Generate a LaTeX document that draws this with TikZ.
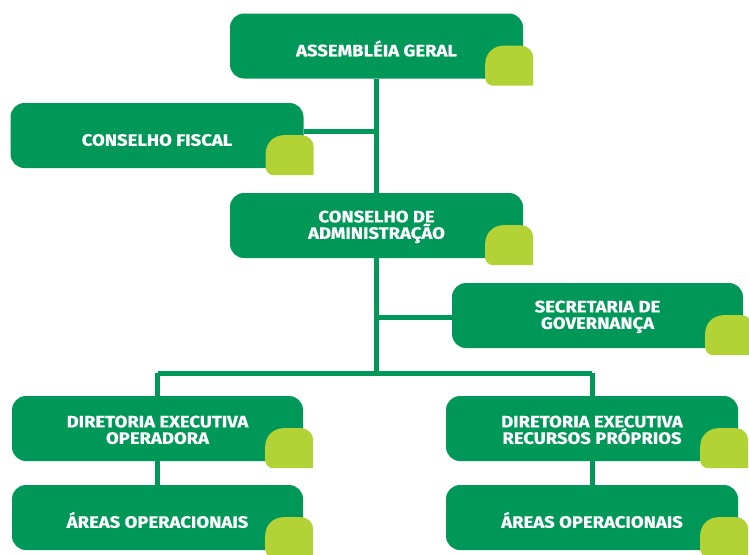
\documentclass[tikz,border=0pt]{standalone}
\usepackage{fontspec}
\setmainfont{Fira Sans}
\newfontfamily\boxfont[FakeStretch=1.12, BoldFeatures={FakeBold=0.6}]{Fira Sans}
\definecolor{grn}{RGB}{0,152,88}
\definecolor{lme}{RGB}{178,210,53}
\newcommand\leafat[1]{%
  \begin{scope}[shift={(#1.south east)}]
    \fill[lme] (10,7) -- (-30,7) .. controls (-34.4,7) and (-38,3.4) .. (-38,-1)
      -- (-38,-15) .. controls (-38,-24.9) and (-29.9,-33) .. (-20,-33)
      -- (-2,-33) .. controls (4.6,-33) and (10,-27.6) .. (10,-21) -- cycle;
  \end{scope}}
\begin{document}
\begin{tikzpicture}[x=1pt,y=-1pt,
  orgbox/.style={fill=grn, rounded corners=14pt, minimum width=293pt, minimum height=65pt,
    inner sep=0pt, text=white, align=center,
    font=\boxfont\fontsize{16.5}{16.5}\selectfont\bfseries},
  oneline/.style={text height=20.5pt, text depth=0pt},
  twoline/.style={text height=31pt},
  conn/.style={draw=grn, line width=5pt}]
\useasboundingbox (0,0) rectangle (749,554);
\clip (0,0) rectangle (749,554);
\node[orgbox, oneline] (ag)  at (376.5,46)   {ASSEMBLÉIA GERAL};
\node[orgbox, oneline] (cf)  at (157,135.5)  {CONSELHO FISCAL};
\node[orgbox, twoline] (ca)  at (376.5,225.5){CONSELHO DE\\ADMINISTRAÇÃO};
\node[orgbox, twoline, minimum width=291pt] (sg) at (597.5,315.5) {SECRETARIA DE\\GOVERNANÇA};
\node[orgbox, twoline, minimum width=291pt] (do)  at (157.5,428.5) {DIRETORIA EXECUTIVA\\OPERADORA};
\node[orgbox, oneline, minimum width=291pt] (ao1) at (157.5,517.5) {ÁREAS OPERACIONAIS};
\node[orgbox, twoline, minimum width=292pt] (dr)  at (592,428.5)   {DIRETORIA EXECUTIVA\\RECURSOS PRÓPRIOS};
\node[orgbox, oneline, minimum width=292pt] (ao2) at (592,517.5)   {ÁREAS OPERACIONAIS};
\coordinate (jcf) at (376.5,131);
\coordinate (jsg) at (376.5,317);
\coordinate (bus) at (376.5,373);
\draw[conn] (ag.south) -- (ca.north);
\draw[conn] (jcf -| cf.east) -- (jcf);
\draw[conn] (ca.south) -- (bus);
\draw[conn] (jsg) -- (jsg -| sg.west);
\draw[conn] (bus -| do.north) -- (bus -| dr.north);
\draw[conn] (bus -| do.north) -- (do.north);
\draw[conn] (bus -| dr.north) -- (dr.north);
\draw[conn] (do.south) -- (ao1.north);
\draw[conn] (dr.south) -- (ao2.north);
\leafat{ag}
\leafat{cf}
\leafat{ca}
\leafat{sg}
\leafat{do}
\leafat{ao1}
\leafat{dr}
\leafat{ao2}
\end{tikzpicture}
\end{document}
